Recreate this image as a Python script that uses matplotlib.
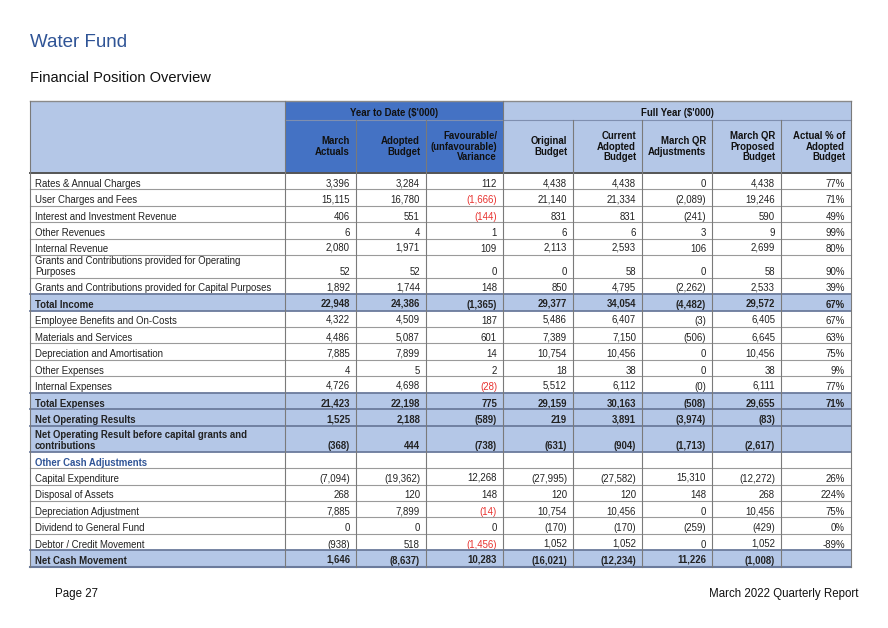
import numpy as np
import matplotlib
matplotlib.use("Agg")
import matplotlib.pyplot as plt
from matplotlib.figure import Figure
from matplotlib.backends.backend_agg import FigureCanvasAgg
from matplotlib.patches import Rectangle

plt.rcParams['font.family'] = ['Liberation Sans', 'DejaVu Sans']

# ---------------- data ----------------
title = "Water Fund"
subtitle = "Financial Position Overview"
footer_left = "Page 27"
footer_right = "March 2022 Quarterly Report"

group_headers = ["Year to Date ($'000)", "Full Year ($'000)"]
column_headers = ["March\nActuals", "Adopted\nBudget", "Favourable/\n(unfavourable)\nVariance",
                  "Original\nBudget", "Current\nAdopted\nBudget", "March QR\nAdjustments",
                  "March QR\nProposed\nBudget", "Actual % of\nAdopted\nBudget"]

row_labels = [
    "Rates & Annual Charges",
    "User Charges and Fees",
    "Interest and Investment Revenue",
    "Other Revenues",
    "Internal Revenue",
    "Grants and Contributions provided for Operating\nPurposes",
    "Grants and Contributions provided for Capital Purposes",
    "Total Income",
    "Employee Benefits and On-Costs",
    "Materials and Services",
    "Depreciation and Amortisation",
    "Other Expenses",
    "Internal Expenses",
    "Total Expenses",
    "Net Operating Results",
    "Net Operating Result before capital grants and\ncontributions",
    "Other Cash Adjustments",
    "Capital Expenditure",
    "Disposal of Assets",
    "Depreciation Adjustment",
    "Dividend to General Fund",
    "Debtor / Credit Movement",
    "Net Cash Movement",
]
row_kinds = ["n", "n", "n", "n", "n", "n", "n", "t", "n", "n", "n", "n", "n", "t", "t", "t",
             "s", "n", "n", "n", "n", "n", "t"]

march_actuals = [3396, 15115, 406, 6, 2080, 52, 1892, 22948, 4322, 4486, 7885, 4, 4726,
                 21423, 1525, -368, None, -7094, 268, 7885, 0, -938, 1646]
adopted_budget_ytd = [3284, 16780, 551, 4, 1971, 52, 1744, 24386, 4509, 5087, 7899, 5, 4698,
                      22198, 2188, 444, None, -19362, 120, 7899, 0, 518, -8637]
variance = [112, -1666, -144, 1, 109, 0, 148, -1365, 187, 601, 14, 2, -28,
            775, -589, -738, None, 12268, 148, -14, 0, -1456, 10283]
original_budget = [4438, 21140, 831, 6, 2113, 0, 850, 29377, 5486, 7389, 10754, 18, 5512,
                   29159, 219, -631, None, -27995, 120, 10754, -170, 1052, -16021]
current_adopted_budget = [4438, 21334, 831, 6, 2593, 58, 4795, 34054, 6407, 7150, 10456, 38, 6112,
                          30163, 3891, -904, None, -27582, 120, 10456, -170, 1052, -12234]
qr_adjustments = [0, -2089, -241, 3, 106, 0, -2262, -4482, -3, -506, 0, 0, -0.4,
                  -508, -3974, -1713, None, 15310, 148, 0, -259, 0, 11226]
proposed_budget = [4438, 19246, 590, 9, 2699, 58, 2533, 29572, 6405, 6645, 10456, 38, 6111,
                   29655, -83, -2617, None, -12272, 268, 10456, -429, 1052, -1008]
actual_pct = [77, 71, 49, 99, 80, 90, 39, 67, 67, 63, 75, 9, 77,
              71, None, None, None, 26, 224, 75, 0, -89, None]

value_columns = [march_actuals, adopted_budget_ytd, variance, original_budget,
                 current_adopted_budget, qr_adjustments, proposed_budget]

# ---------------- layout ----------------
W, H = 888, 628
DPI = 100
fig = plt.figure(figsize=(W / DPI, H / DPI), dpi=DPI)
ax = fig.add_axes([0, 0, 1, 1])
ax.set_xlim(0, W)
ax.set_ylim(H, 0)
ax.axis("off")

col_edges = [30, 285, 356, 426, 503, 573, 642, 712, 781, 851]
head_top, head_mid, head_bot = 101, 119.5, 172.8
std_h = 16.45
row_heights = [std_h] * len(row_labels)
row_heights[5] = 22.6
row_heights[15] = 26.0
row_edges = [head_bot]
for h in row_heights:
    row_edges.append(row_edges[-1] + h)
table_bot = row_edges[-1]

LIGHT = "#b4c7e7"
DARK = "#4472c4"
TXT = "#222222"
RED = "#e8322f"
BLUE_T = "#2f5496"
FS = 6.9
LS = 11  # line spacing px

_top_cache = {}


def _top_ink_row(s, weight, size):
    key = (s, weight, size)
    if key not in _top_cache:
        f = Figure(figsize=(2.4, 0.4), dpi=DPI)
        FigureCanvasAgg(f)
        a = f.add_axes([0, 0, 1, 1])
        a.set_xlim(0, 240)
        a.set_ylim(40, 0)
        a.axis("off")
        a.text(5, 30, s, va="baseline", fontsize=size, fontweight=weight, color="black")
        f.canvas.draw()
        buf = np.asarray(f.canvas.buffer_rgba())
        rows = np.where((buf[:, :, 0] < 200).any(axis=1))[0]
        _top_cache[key] = int(rows[0]) if len(rows) else 0
    return _top_cache[key]


def raster_shift(s, weight, size):
    """Rasteriser baseline error for comma-only numbers, measured against the same
    digits without the comma (which render exactly on the baseline)."""
    if "," not in s or "(" in s:
        return 0
    try:
        clean = s.replace(",", "")
        return _top_ink_row(s, weight, size) - _top_ink_row(clean, weight, size)
    except Exception:
        return 0


def put(x, y, s, size=FS, weight="normal", **kw):
    if not s:
        return
    yb = round(y) - raster_shift(s, weight, size)
    ax.text(x, yb, s, va="baseline", fontsize=size, fontweight=weight, **kw)


# header fills
ax.add_patch(Rectangle((col_edges[0], head_top), col_edges[1] - col_edges[0], head_bot - head_top,
                       facecolor=LIGHT, edgecolor="none"))
ax.add_patch(Rectangle((col_edges[1], head_top), col_edges[4] - col_edges[1], head_bot - head_top,
                       facecolor=DARK, edgecolor="none"))
ax.add_patch(Rectangle((col_edges[4], head_top), col_edges[9] - col_edges[4], head_bot - head_top,
                       facecolor=LIGHT, edgecolor="none"))

# total row fills
for i, k in enumerate(row_kinds):
    if k == "t":
        ax.add_patch(Rectangle((col_edges[0], row_edges[i]), col_edges[-1] - col_edges[0],
                               row_edges[i + 1] - row_edges[i], facecolor=LIGHT, edgecolor="none"))

# group headers
put((col_edges[1] + col_edges[4]) / 2, 116, group_headers[0], weight="bold",
    ha="center", color="#111111")
put((col_edges[4] + col_edges[9]) / 2, 116, group_headers[1], weight="bold",
    ha="center", color="#111111")

# column headers
hc = 146.3
for j, lab in enumerate(column_headers):
    lines = lab.split("\n")
    n = len(lines)
    x = col_edges[j + 2] - 6
    for li, line in enumerate(lines):
        yc = hc + (li - (n - 1) / 2) * 10.6
        put(x, yc + 3.4, line, weight="bold", ha="right", color="#111111")


def fmt(v):
    if v is None:
        return ""
    s = f"{int(round(abs(v))):,}"
    return f"({s})" if v < 0 else s


# body text
for i, lab in enumerate(row_labels):
    kind = row_kinds[i]
    base = round(row_edges[i + 1] - 2.6)
    weight = "bold" if kind in ("t", "s") else "normal"
    lcolor = BLUE_T if kind == "s" else TXT
    lines = lab.split("\n")
    for li, line in enumerate(lines):
        put(col_edges[0] + 5, base - (len(lines) - 1 - li) * LS, line, weight=weight,
            ha="left", color=lcolor)
    for j, col in enumerate(value_columns):
        v = col[i]
        color = TXT
        if j == 2 and kind == "n" and v is not None and v < 0:
            color = RED
        put(col_edges[j + 2] - 6, base, fmt(v), weight=weight, ha="right", color=color)
    p = actual_pct[i]
    if p is not None:
        put(col_edges[9] - 6, base, f"{p}%", weight=weight, ha="right", color=TXT)

# grid lines
GRID = "#9a9a9a"
for i, y in enumerate(row_edges[1:-1], start=1):
    near_total = row_kinds[i - 1] == "t" or row_kinds[i] == "t"
    if near_total:
        ax.plot([col_edges[0], col_edges[-1]], [y, y], color="#6b7b9c", lw=1.3, zorder=3)
    else:
        ax.plot([col_edges[0], col_edges[-1]], [y, y], color=GRID, lw=0.8, zorder=2)
# header bottom and table bottom
ax.plot([col_edges[0], col_edges[-1]], [head_bot, head_bot], color="#555555", lw=1.4, zorder=3)
ax.plot([col_edges[0], col_edges[-1]], [table_bot, table_bot], color="#6b7b9c", lw=1.5, zorder=3)
# group header divider
ax.plot([col_edges[1], col_edges[-1]], [head_mid, head_mid], color="#7f8fb0", lw=0.8, zorder=3)
ax.plot([col_edges[0], col_edges[-1]], [head_top, head_top], color="#8a8a8a", lw=1.0, zorder=3)

# verticals
for k, x in enumerate(col_edges):
    if k in (0, 1, 4, 9):
        y0 = head_top
    else:
        y0 = head_mid
    ax.plot([x, x], [y0, table_bot], color="#7a7a7a", lw=0.8, zorder=3)

# titles and footer
put(30, 47, title, size=13.5, ha="left", color="#2f5496")
put(30, 82, subtitle, size=10.5, ha="left", color="#111111")
put(55, 597, footer_left, size=8.3, ha="left", color="#111111")
put(858, 597, footer_right, size=8.3, ha="right", color="#111111")

fig.savefig("out.png", dpi=DPI)
